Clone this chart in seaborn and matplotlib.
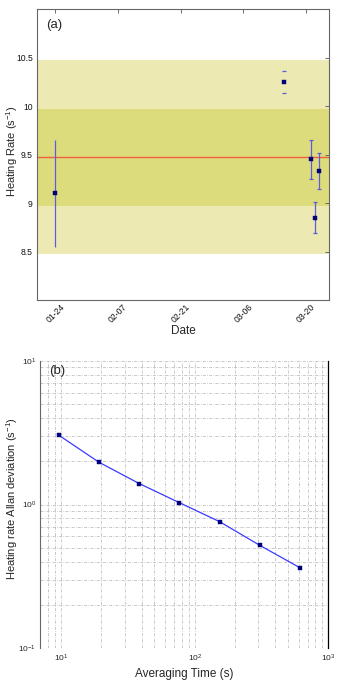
import numpy as np
import pandas as pd
import seaborn as sns
import matplotlib
matplotlib.use("Agg")
import matplotlib.pyplot as plt
import matplotlib.dates as mdates
from matplotlib.ticker import LogLocator, FixedLocator, FuncFormatter, NullFormatter

# ---- panel (a) data: heating rate per run ----
run_dates = pd.to_datetime(["2016-01-24", "2016-03-15", "2016-03-21",
                            "2016-03-22", "2016-03-23"])
heat_rate = [9.10, 10.25, 9.45, 8.85, 9.33]
heat_err = [0.55, 0.115, 0.20, 0.16, 0.19]
mean_rate = 9.47
band_inner = 0.5
band_outer = 1.0

# ---- panel (b) data: Allan deviation ----
tau = [9.6, 19.2, 38.4, 76.8, 153.6, 307.2, 614.4]
allan_dev = [3.04, 1.97, 1.40, 1.03, 0.76, 0.52, 0.363]

sns.set_style("white")
plt.rcParams['font.family'] = ['Liberation Sans', 'DejaVu Sans']
plt.rcParams['mathtext.fontset'] = 'custom'
plt.rcParams['mathtext.rm'] = 'Liberation Sans'
plt.rcParams['mathtext.it'] = 'Liberation Sans'

fig = plt.figure(figsize=(3.39, 6.87), dpi=100)
ax1 = fig.add_axes([0.109, 0.5633, 0.861, 0.4236])
ax2 = fig.add_axes([0.119, 0.0563, 0.8496, 0.4186])

# ----- (a) -----
ax1.axhspan(mean_rate - band_outer, mean_rate + band_outer, color="#ece9b2", lw=0, zorder=0)
ax1.axhspan(mean_rate - band_inner, mean_rate + band_inner, color="#dddc7c", lw=0, zorder=0)
ax1.axhline(mean_rate, color="#f06040", lw=1.0, zorder=1)

df_a = pd.DataFrame({"date": run_dates, "rate": heat_rate, "err": heat_err})
bar_col = "#5c5cdc"
# first run: no caps
ax1.errorbar(df_a["date"][:1], df_a["rate"][:1], yerr=df_a["err"][:1], fmt="none",
             ecolor=bar_col, elinewidth=0.9, capsize=0, zorder=2)
# second run: only caps show
ax1.errorbar(df_a["date"][1:2], df_a["rate"][1:2], yerr=df_a["err"][1:2], fmt="none",
             ecolor=bar_col, elinewidth=0, capsize=1.6, capthick=0.9, zorder=2)
ax1.errorbar(df_a["date"][2:], df_a["rate"][2:], yerr=df_a["err"][2:], fmt="none",
             ecolor=bar_col, elinewidth=0.9, capsize=1.3, capthick=0.9, zorder=2)
sns.scatterplot(data=df_a, x="date", y="rate", ax=ax1, marker="s", s=7,
                color="#00007a", edgecolor="#00007a", linewidth=0.3, zorder=3)

ax1.set_ylim(8.0, 11.0)
ax1.set_xlim(pd.Timestamp("2016-01-19 22:00"), pd.Timestamp("2016-03-25 02:00"))
ax1.set_yticks([8.5, 9.0, 9.5, 10.0, 10.5])
ax1.yaxis.set_major_formatter(FuncFormatter(lambda v, p: f"{v:g}"))
ax1.xaxis.set_major_locator(FixedLocator(mdates.date2num(
    pd.to_datetime(["2016-01-24", "2016-02-07", "2016-02-21", "2016-03-06", "2016-03-20"]))))
ax1.xaxis.set_major_formatter(mdates.DateFormatter("%m-%d"))
for lab in ax1.get_xticklabels():
    lab.set_rotation(45)
    lab.set_ha("center")
ax1.tick_params(axis="both", direction="in", length=3, width=0.6, color="#555555",
                labelsize=6.2, labelcolor="#111111", top=True, right=True, pad=3)
ax1.tick_params(axis="x", pad=2)
ax1.set_xlabel("Date", fontsize=8.5, labelpad=0)
ax1.set_ylabel("Heating Rate (s$^{-1}$)", fontsize=8)
ax1.yaxis.set_label_coords(-0.058, 0.51)
for sp in ax1.spines.values():
    sp.set_color("#666666")
    sp.set_linewidth(0.8)
ax1.text(0.03, 0.965, "(a)", transform=ax1.transAxes, fontsize=9.5, va="top", ha="left")

# ----- (b) -----
df_b = pd.DataFrame({"tau": tau, "adev": allan_dev})
sns.lineplot(data=df_b, x="tau", y="adev", ax=ax2, color="#3a3aff", lw=0.9, zorder=2)
sns.scatterplot(data=df_b, x="tau", y="adev", ax=ax2, marker="s", s=5,
                color="#00007a", edgecolor="#00007a", linewidth=0.3, zorder=3)
ax2.set_xscale("log")
ax2.set_yscale("log")
ax2.set_xlim(7.0, 1000)
ax2.set_ylim(0.1, 10)
ax2.xaxis.set_major_locator(LogLocator(base=10, numticks=10))
ax2.xaxis.set_minor_locator(LogLocator(base=10, subs=np.arange(2, 10), numticks=10))
ax2.yaxis.set_major_locator(LogLocator(base=10, numticks=10))
ax2.yaxis.set_minor_locator(LogLocator(base=10, subs=np.arange(2, 10), numticks=10))
ax2.xaxis.set_minor_formatter(NullFormatter())
ax2.yaxis.set_minor_formatter(NullFormatter())
ax2.grid(True, which="both", ls=(0, (4, 2, 1, 2)), lw=0.5, color="#b0b0b0")
ax2.tick_params(axis="both", which="both", length=0, labelsize=6, pad=3)
ax2.set_xlabel("Averaging Time (s)", fontsize=8.5, labelpad=3)
ax2.set_ylabel("Heating rate Allan deviation (s$^{-1}$)", fontsize=8)
ax2.yaxis.set_label_coords(-0.070, 0.52)
ax2.spines["top"].set_visible(False)
ax2.spines["bottom"].set_visible(False)
ax2.spines["left"].set_color("#666666")
ax2.spines["left"].set_linewidth(0.8)
ax2.spines["right"].set_color("black")
ax2.spines["right"].set_linewidth(0.9)
ax2.text(0.03, 0.985, "(b)", transform=ax2.transAxes, fontsize=9.5, va="top", ha="left")

fig.savefig("out.png", dpi=100)
